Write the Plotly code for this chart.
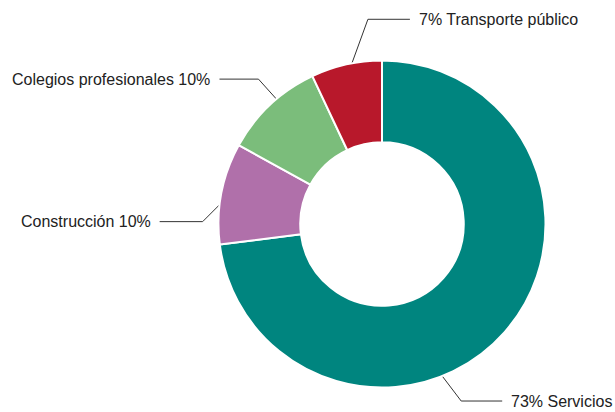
import math
import plotly.graph_objects as go

labels = ["Servicios", "Construcción", "Colegios profesionales", "Transporte público"]
values = [73, 10, 10, 7]
colors = ["#00857f", "#b070aa", "#7bbd7b", "#b8182b"]
label_text = ["73% Servicios", "Construcción 10%", "Colegios profesionales 10%", "7% Transporte público"]

W, H = 615, 412
CX, CY, R = 382, 224, 163.5

# leader line layout per slice: angle offset from slice middle (deg), elbow offset (px), line length, side
LEADER = [
    dict(dang=27, elbow=(19, 25), run=41, side="right"),
    dict(dang=-4, elbow=(-17, 17), run=43, side="left"),
    dict(dang=3, elbow=(-18, -20), run=39, side="left"),
    dict(dang=2, elbow=(16, -44), run=42, side="right"),
]

fig = go.Figure()
fig.add_trace(go.Pie(
    labels=labels, values=values, sort=False, direction="clockwise", rotation=0,
    hole=0.5, textinfo="none", showlegend=False,
    marker=dict(colors=colors, line=dict(color="white", width=2)),
    domain=dict(x=[(CX - R) / W, (CX + R) / W], y=[(H - CY - R) / H, (H - CY + R) / H]),
))

total = sum(values)
cum = 0
for v, txt, ld in zip(values, label_text, LEADER):
    mid = (cum + v / 2) / total * 360 + ld["dang"]
    cum += v
    a = math.radians(mid)
    x0, y0 = CX + R * math.sin(a), CY - R * math.cos(a)
    x1, y1 = x0 + ld["elbow"][0], y0 + ld["elbow"][1]
    sgn = 1 if ld["side"] == "right" else -1
    x2 = x1 + sgn * ld["run"]
    fig.add_trace(go.Scatter(x=[x0, x1, x2], y=[y0, y1, y1], mode="lines",
                             line=dict(color="#333333", width=1), hoverinfo="skip",
                             showlegend=False))
    fig.add_annotation(x=x2 + sgn * 7, y=y1, text=txt, showarrow=False,
                       xanchor="left" if sgn > 0 else "right", yanchor="middle",
                       font=dict(size=16, color="#222222"))

fig.update_layout(
    width=W, height=H, margin=dict(l=0, r=0, t=0, b=0),
    paper_bgcolor="white", plot_bgcolor="rgba(0,0,0,0)",
    font=dict(family="Liberation Sans, Arial, sans-serif"),
    xaxis=dict(range=[0, W], visible=False, fixedrange=True),
    yaxis=dict(range=[H, 0], visible=False, fixedrange=True),
)
fig.write_html("out.html", config={"displayModeBar": False},
               post_script="document.body.style.margin='0';")
